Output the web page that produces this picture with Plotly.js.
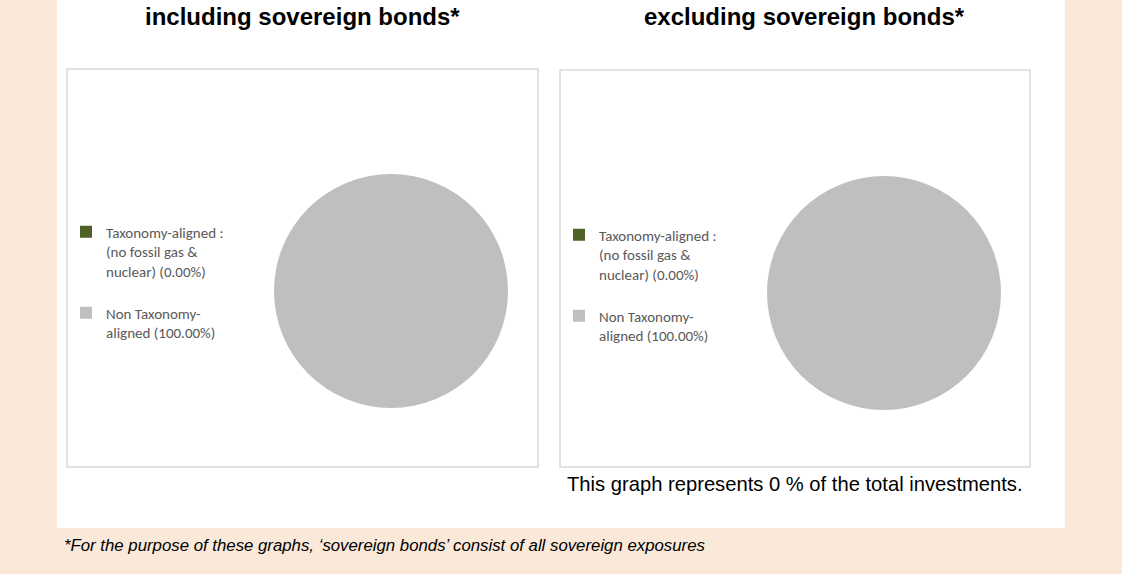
<!DOCTYPE html>
<html>
<head>
<meta charset="utf-8">
<script src="https://cdn.plot.ly/plotly-3.0.1.min.js"></script>
<style>html,body{margin:0;padding:0;background:#FAE8D8;}#chart{width:1122px;height:574px;}</style>
</head>
<body>
<div id="chart"></div>
<script>
// Data
const categories = ["Taxonomy-aligned : (no fossil gas & nuclear)", "Non Taxonomy-aligned"];
const legendLabelParts = [["Taxonomy-aligned :", "(no fossil gas &", "nuclear)"], ["Non Taxonomy-", "aligned"]];
const valuesIncluding = [0, 100];
const valuesExcluding = [0, 100];
const chartTitles = ["including sovereign bonds*", "excluding sovereign bonds*"];
const noteText = "This graph represents 0 % of the total investments.";
const footnoteText = "*For the purpose of these graphs, \u2018sovereign bonds\u2019 consist of all sovereign exposures";
const sliceColors = ["#4F6228", "#BFBFBF"];

const W = 1122, H = 574;
const px = x => x / W;
const py = y => 1 - y / H;

function makeLabels(values) {
  const total = values.reduce((a, b) => a + b, 0);
  return legendLabelParts.map((parts, i) => {
    const pct = "(" + (values[i] / total * 100).toFixed(2) + "%)";
    const p = parts.slice();
    p[p.length - 1] = p[p.length - 1] + " " + pct;
    // blank line after each entry except the last to open the gap between entries
    return p.join("<br>") + (i < legendLabelParts.length - 1 ? "<br> " : "");
  });
}

const pieCommon = {
  type: "pie",
  sort: false,
  direction: "clockwise",
  textinfo: "none",
  hoverinfo: "label+percent",
  marker: {colors: sliceColors, line: {width: 0}}
};

const traces = [
  Object.assign({}, pieCommon, {
    labels: makeLabels(valuesIncluding),
    values: valuesIncluding,
    domain: {x: [px(274), px(508)], y: [py(408), py(174)]},
    legend: "legend",
    legendgroup: "incl"
  }),
  Object.assign({}, pieCommon, {
    labels: makeLabels(valuesExcluding),
    values: valuesExcluding,
    domain: {x: [px(767), px(1001)], y: [py(410), py(176)]},
    legend: "legend2",
    legendgroup: "excl"
  })
];

const legendFont = {family: "Carlito, Lato, sans-serif", size: 15, color: "#595959"};
const legendCommon = {
  font: legendFont,
  bgcolor: "rgba(0,0,0,0)",
  xanchor: "left",
  yanchor: "top",
  valign: "top",
  itemwidth: 30,
  tracegroupgap: 0,
  itemclick: false,
  itemdoubleclick: false
};

const boxLine = {color: "#D9D9D9", width: 1.5};

const layout = {
  width: W,
  height: H,
  margin: {l: 0, r: 0, t: 0, b: 0},
  paper_bgcolor: "#FAE8D8",
  plot_bgcolor: "rgba(0,0,0,0)",
  showlegend: true,
  legend: Object.assign({}, legendCommon, {x: px(66), y: py(215.5)}),
  legend2: Object.assign({}, legendCommon, {x: px(559), y: py(218.5)}),
  shapes: [
    {type: "rect", xref: "paper", yref: "paper", x0: px(57), x1: px(1065), y0: py(528), y1: py(0), fillcolor: "#FFFFFF", line: {width: 0}, layer: "below"},
    {type: "rect", xref: "paper", yref: "paper", x0: px(67), x1: px(538), y0: py(467), y1: py(69), fillcolor: "rgba(0,0,0,0)", line: boxLine, layer: "below"},
    {type: "rect", xref: "paper", yref: "paper", x0: px(560), x1: px(1030), y0: py(467), y1: py(70), fillcolor: "rgba(0,0,0,0)", line: boxLine, layer: "below"}
  ],
  annotations: [
    {text: "<b>" + chartTitles[0] + "</b>", xref: "paper", yref: "paper", x: px(302.5), y: py(17), xanchor: "center", yanchor: "middle", showarrow: false, font: {family: "Liberation Sans, Arial, sans-serif", size: 24, color: "#000000"}},
    {text: "<b>" + chartTitles[1] + "</b>", xref: "paper", yref: "paper", x: px(804), y: py(17), xanchor: "center", yanchor: "middle", showarrow: false, font: {family: "Liberation Sans, Arial, sans-serif", size: 24, color: "#000000"}},
    {text: noteText, xref: "paper", yref: "paper", x: px(794.5), y: py(484), xanchor: "center", yanchor: "middle", showarrow: false, font: {family: "Liberation Sans, Arial, sans-serif", size: 20.2, color: "#000000"}},
    {text: "<i>" + footnoteText + "</i>", xref: "paper", yref: "paper", x: px(62), y: py(545), xanchor: "left", yanchor: "middle", showarrow: false, font: {family: "Liberation Sans, Arial, sans-serif", size: 16.8, color: "#000000"}}
  ]
};

Plotly.newPlot("chart", traces, layout, {staticPlot: true, displayModeBar: false});
</script>
</body>
</html>
